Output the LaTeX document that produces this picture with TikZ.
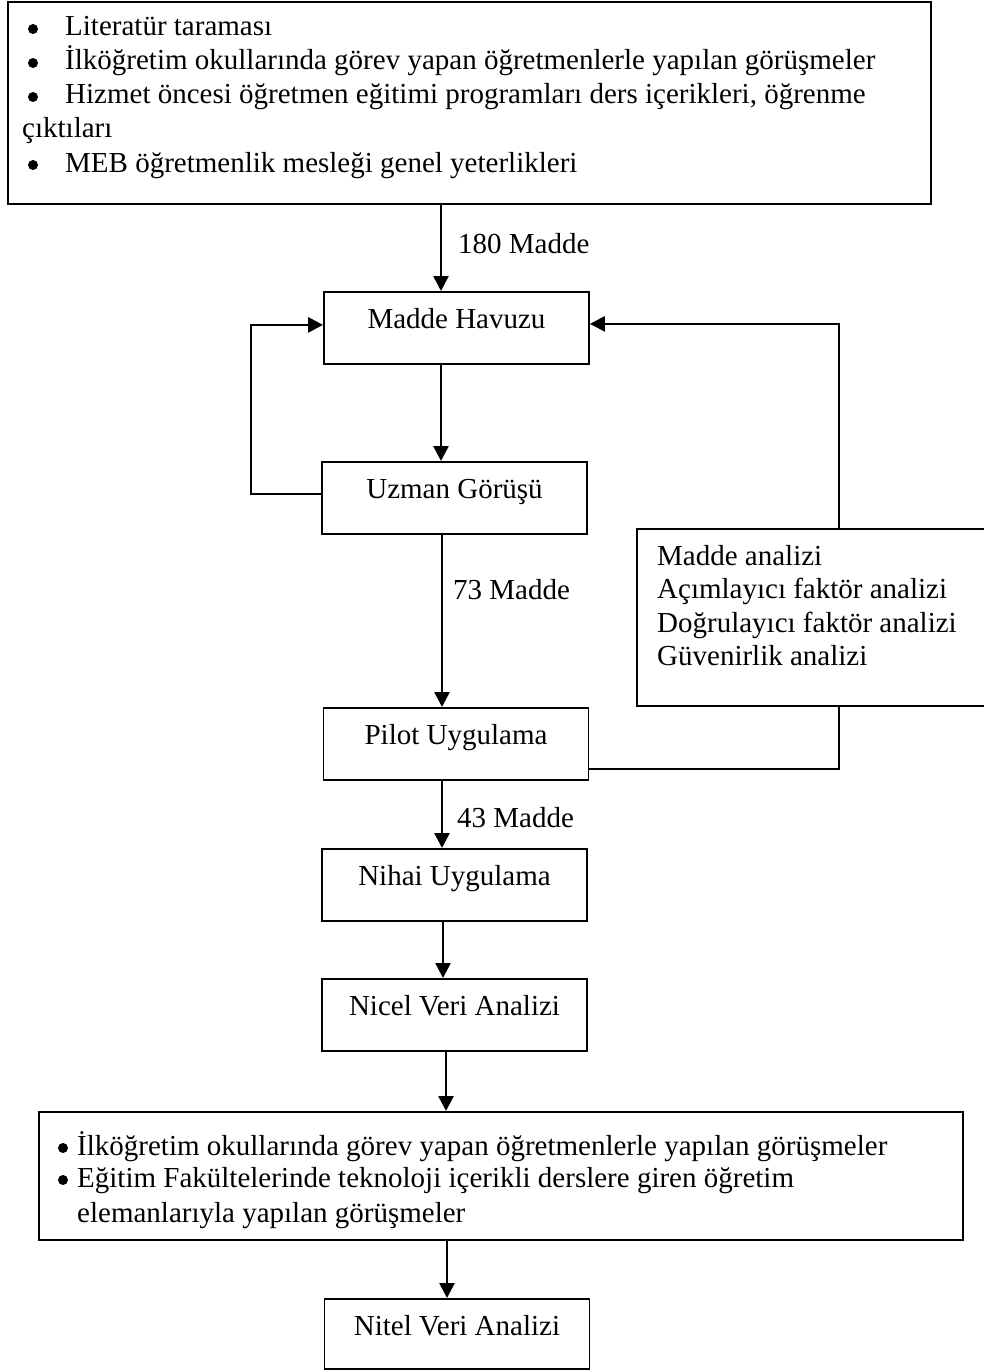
\documentclass[tikz,border=0pt]{standalone}
\usepackage{fontspec}
\setmainfont{Liberation Serif}
\usetikzlibrary{arrows.meta}
\begin{document}
\begin{tikzpicture}[x=1pt,y=-1pt,
  txt/.style={font=\fontsize{29pt}{33pt}\selectfont, inner sep=0pt, anchor=base west},
  frame/.style={draw, line width=1.8pt, inner sep=0pt},
  stage/.style={frame, minimum width=265pt, minimum height=72pt,
    text height=37pt, text depth=35pt, anchor=north,
    font=\fontsize{29pt}{33pt}\selectfont},
  arr/.style={line width=2.6pt, -{Triangle[length=15pt,width=15pt]}},
  link/.style={line width=1.8pt},
  dot/.style={circle, fill, inner sep=0pt, minimum size=10pt}
]
\useasboundingbox (0,0) rectangle (983,1370);

% sources box
\node[frame, minimum width=923pt, minimum height=202pt, anchor=north west] (src) at (7,1) {};
\node[dot] (b1) at (33,29) {};
\node[dot] (b2) at (33,63) {};
\node[dot] (b3) at (33,97) {};
\node[dot] (b4) at (33,165) {};
\node[txt] (l1) at (65,36) {Literatür taraması};
\node[txt] (l2) at (65,70) {İlköğretim okullarında görev yapan öğretmenlerle yapılan görüşmeler};
\node[txt] (l3) at (65,104) {Hizmet öncesi öğretmen eğitimi programları ders içerikleri, öğrenme};
\node[txt] (l3b) at (22,138) {çıktıları};
\node[txt] (l4) at (65,172) {MEB öğretmenlik mesleği genel yeterlikleri};

% process stages
\node[stage] (havuz) at (456.5,291) {Madde Havuzu};
\node[stage] (uzman) at (454.5,461) {Uzman Görüşü};
\node[stage] (pilot) at (456,707) {Pilot Uygulama};
\node[stage] (nihai) at (454.5,848) {Nihai Uygulama};
\node[stage] (nicel) at (454.5,978) {Nicel Veri Analizi};
\node[stage, minimum height=70pt, text depth=33pt] (nitel) at (457,1298) {Nitel Veri Analizi};

% analyses box
\node[frame, minimum width=350pt, minimum height=177pt, anchor=north west] (ana) at (636,528) {};
\node[txt] (a1) at (657,565) {Madde analizi};
\node[txt] (a2) at (657,598) {Açımlayıcı faktör analizi};
\node[txt] (a3) at (657,632) {Doğrulayıcı faktör analizi};
\node[txt] (a4) at (657,665) {Güvenirlik analizi};

% interviews box
\node[frame, minimum width=924pt, minimum height=128pt, anchor=north west] (intv) at (38,1111) {};
\node[dot] (b5) at (63,1148) {};
\node[dot] (b6) at (63,1180) {};
\node[txt] (i1) at (77,1155) {İlköğretim okullarında görev yapan öğretmenlerle yapılan görüşmeler};
\node[txt] (i2) at (77,1187) {Eğitim Fakültelerinde teknoloji içerikli derslere giren öğretim};
\node[txt] (i3) at (77,1222) {elemanlarıyla yapılan görüşmeler};

% arrow columns
\coordinate (c1) at (441,0);
\coordinate (c2) at (442,0);
\coordinate (c3) at (443,0);
\coordinate (c4) at (446,0);
\coordinate (c5) at (447,0);
\coordinate (rx) at (839,0);

\draw[arr] (src.south -| c1) -- (havuz.north -| c1);
\draw[arr] (havuz.south -| c1) -- (uzman.north -| c1);
\draw[arr] (uzman.south -| c2) -- (pilot.north -| c2);
\draw[arr] (pilot.south -| c2) -- (nihai.north -| c2);
\draw[arr] (nihai.south -| c3) -- (nicel.north -| c3);
\draw[arr] (nicel.south -| c4) -- (intv.north -| c4);
\draw[arr] (intv.south -| c5) -- (nitel.north -| c5);

% item counts
\node[txt] (n180) at (458,253) {180 Madde};
\node[txt] (n73) at (453,599) {73 Madde};
\node[txt] (n43) at (457,827) {43 Madde};

% feedback loops
\draw[arr] ([yshift=4pt]uzman.west) -| ([xshift=-72pt,yshift=3pt]havuz.west) -- ([yshift=3pt]havuz.west);
\draw[arr] (ana.north -| rx) |- ([yshift=4pt]havuz.east);
\draw[link] ([yshift=-25pt]pilot.east) -| (ana.south -| rx);
\end{tikzpicture}
\end{document}
